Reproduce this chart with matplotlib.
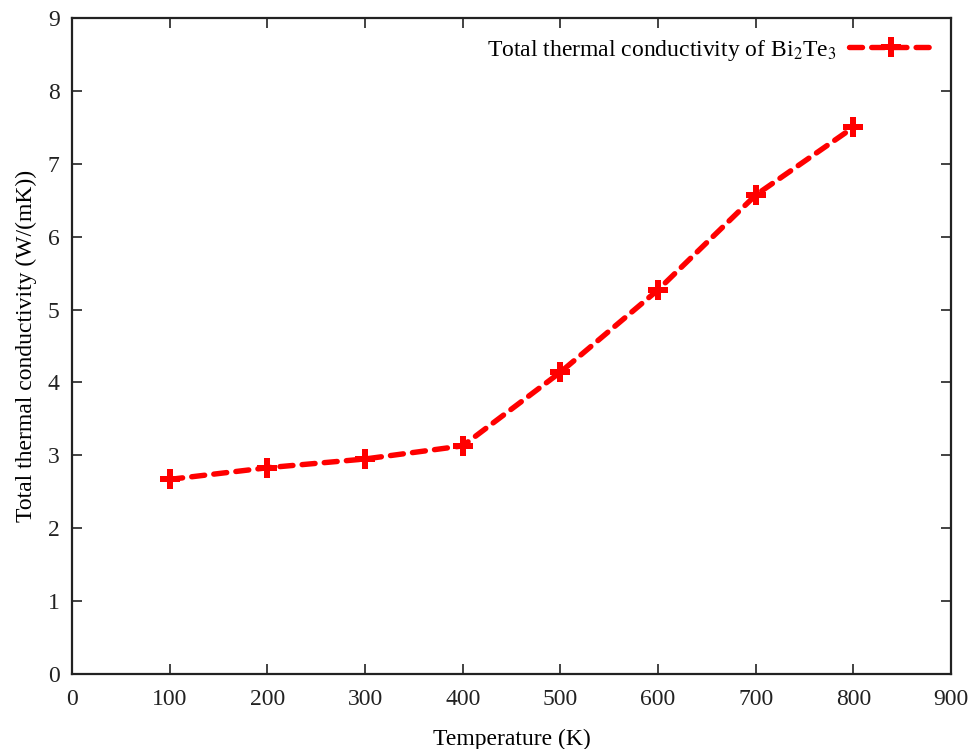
import numpy as np
import matplotlib
matplotlib.use("Agg")
import matplotlib.pyplot as plt

# data
temperature = [100, 200, 300, 400, 500, 600, 700, 800]
kappa_total = [2.67, 2.83, 2.95, 3.13, 4.14, 5.27, 6.57, 7.50]

plt.rcParams['font.family'] = ['Liberation Serif', 'DejaVu Serif']
plt.rcParams['mathtext.fontset'] = 'stix'

fig = plt.figure(figsize=(9.76, 7.49), dpi=100)
ax = fig.add_axes([0.0738, 0.1001, 0.9006, 0.8759])

ax.plot(temperature, kappa_total, color='red', linewidth=3.9, linestyle=(0, (2.4, 1.7)),
        dash_capstyle='round', marker='P', markersize=14, markeredgewidth=0,
        label=r'Total thermal conductivity of Bi$_2$Te$_3$')

ax.set_xlim(0, 900)
ax.set_ylim(0, 9)
ax.set_xticks(np.arange(0, 901, 100))
ax.set_yticks(np.arange(0, 10, 1))
ax.tick_params(direction='in', top=True, right=True, length=7, width=1.2,
               labelsize=17, colors='#222222')
ax.tick_params(axis='x', pad=11)
ax.tick_params(axis='y', pad=9)
for s in ax.spines.values():
    s.set_linewidth(1.6)
    s.set_color('#222222')

ax.set_xlabel('Temperature (K)', fontsize=17, labelpad=13)
ax.set_ylabel('Total thermal conductivity (W/(mK))', fontsize=17, labelpad=8)

leg = ax.legend(loc='upper right', bbox_to_anchor=(0.995, 0.99), frameon=False,
                fontsize=17, markerfirst=False, handlelength=3.6,
                borderaxespad=0.15, handletextpad=0.5)

plt.savefig('out.png', dpi=100)
